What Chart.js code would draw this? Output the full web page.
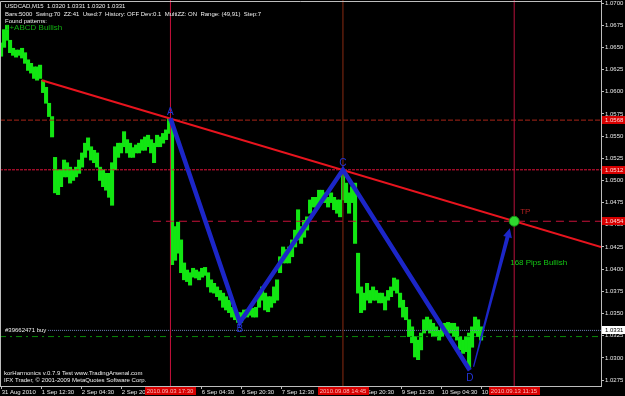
<!DOCTYPE html>
<html><head><meta charset="utf-8">
<script src="https://cdn.jsdelivr.net/npm/chart.js@4"></script>
<style>html,body{margin:0;padding:0;background:#000;overflow:hidden}</style>
</head><body>
<canvas id="c" width="625" height="396"></canvas>
<script>
// ---------------- data ----------------
const headerLines = [
  'USDCAD,M15  1.0320 1.0331 1.0320 1.0331',
  'Bars:5000  Swing:70  ZZ:41  Used:7  History: OFF Dev:0.1  MultiZZ: ON  Range: (49,91)  Step:7',
  'Found patterns:'
];
const patternFound = '1+ABCD Bullish';
const footerLines = [
  'korHarmonics v.0.7.9 Test www.TradingArsenal.com',
  'IFX Trader, \u00A9 2001-2009 MetaQuotes Software Corp.'
];

// price axis
const Y_MIN = 1.02683, Y_MAX = 1.07034;
const priceTicks = [1.0700,1.0675,1.0650,1.0625,1.0600,1.0575,1.0550,1.0525,1.0500,1.0475,1.0450,1.0425,1.0400,1.0375,1.0350,1.0325,1.0300,1.0275];

// time axis: M15 bar numbers counted from 31 Aug 20:30
const X_MIN = -2.7, X_MAX = 958.9;
const timeTickBars = [0,64,128,192,256,320,384,448,512,576,640,704,768];
const timeTickLabels = ['31 Aug 2010','1 Sep 12:30','2 Sep 04:30','2 Sep 20:30','3 Sep 12:30','6 Sep 04:30','6 Sep 20:30','7 Sep 12:30','8 Sep 04:30','8 Sep 20:30','9 Sep 12:30','10 Sep 04:30','10 Sep 20:30'];

// price trace, one low/high range every 72 minutes (4.8 M15 bars)
const SAMPLE_START_BAR = -1, SAMPLE_STEP_BARS = 4.8;
const priceLow = [
1.0640,1.0650,1.0658,1.0644,1.0641,1.0639,1.0641,1.0638,1.0632,1.0624,
1.0621,1.0615,1.0613,1.0615,1.0599,1.0587,1.0572,1.0549,1.0486,1.0484,
1.0493,1.0504,1.0504,1.0497,1.0500,1.0504,1.0508,1.0515,1.0526,1.0534,
1.0523,1.0520,1.0515,1.0500,1.0493,1.0489,1.0481,1.0472,1.0512,1.0526,
1.0531,1.0538,1.0531,1.0526,1.0526,1.0531,1.0531,1.0534,1.0534,1.0538,
1.0531,1.0520,1.0538,1.0538,1.0542,1.0546,1.0553,1.0405,1.0410,1.0418,
1.0396,1.0388,1.0386,1.0382,1.0391,1.0390,1.0388,1.0391,1.0393,1.0380,
1.0374,1.0373,1.0369,1.0365,1.0357,1.0354,1.0351,1.0346,1.0343,1.0340,
1.0340,1.0345,1.0346,1.0348,1.0346,1.0346,1.0357,1.0365,1.0354,1.0352,
1.0357,1.0362,1.0365,1.0396,1.0407,1.0407,1.0407,1.0414,1.0425,1.0433,
1.0429,1.0436,1.0444,1.0463,1.0470,1.0470,1.0475,1.0478,1.0475,1.0470,
1.0475,1.0467,1.0463,1.0459,1.0478,1.0475,1.0463,1.0475,1.0429,1.0373,
1.0351,1.0354,1.0365,1.0362,1.0365,1.0365,1.0362,1.0362,1.0354,1.0365,
1.0369,1.0376,1.0373,1.0357,1.0346,1.0343,1.0324,1.0317,1.0301,1.0298,
1.0309,1.0328,1.0331,1.0328,1.0324,1.0324,1.0320,1.0324,1.0328,1.0328,
1.0328,1.0324,1.0320,1.0309,1.0305,1.0307,1.0288,1.0312,1.0328,1.0324,
1.0320];
const priceHigh = [
1.0655,1.0670,1.0675,1.0658,1.0649,1.0647,1.0647,1.0649,1.0644,1.0636,
1.0632,1.0628,1.0628,1.0630,1.0613,1.0605,1.0587,1.0572,1.0526,1.0512,
1.0512,1.0523,1.0520,1.0515,1.0512,1.0515,1.0523,1.0531,1.0542,1.0548,
1.0538,1.0534,1.0531,1.0515,1.0512,1.0508,1.0508,1.0520,1.0538,1.0542,
1.0542,1.0555,1.0546,1.0542,1.0537,1.0540,1.0542,1.0546,1.0549,1.0551,
1.0546,1.0542,1.0551,1.0549,1.0553,1.0557,1.0570,1.0566,1.0448,1.0453,
1.0433,1.0407,1.0399,1.0396,1.0401,1.0399,1.0397,1.0401,1.0402,1.0396,
1.0388,1.0384,1.0380,1.0376,1.0373,1.0369,1.0365,1.0357,1.0352,1.0351,
1.0351,1.0354,1.0354,1.0356,1.0356,1.0357,1.0373,1.0380,1.0373,1.0369,
1.0369,1.0380,1.0388,1.0414,1.0425,1.0422,1.0425,1.0433,1.0444,1.0467,
1.0448,1.0455,1.0459,1.0478,1.0481,1.0481,1.0489,1.0489,1.0486,1.0481,
1.0486,1.0481,1.0478,1.0478,1.0508,1.0497,1.0486,1.0493,1.0497,1.0418,
1.0380,1.0373,1.0384,1.0376,1.0380,1.0376,1.0373,1.0373,1.0369,1.0376,
1.0380,1.0390,1.0388,1.0373,1.0365,1.0357,1.0343,1.0335,1.0324,1.0320,
1.0328,1.0343,1.0346,1.0343,1.0339,1.0335,1.0331,1.0335,1.0339,1.0340,
1.0339,1.0339,1.0335,1.0324,1.0320,1.0324,1.0328,1.0335,1.0346,1.0343,
1.0335];

// ABCD pattern
const patternNames = ['A','B','C','D'];
const patternBars = [270, 381, 546, 749];
const patternPrices = [1.0570, 1.0340, 1.0512, 1.0286];
const tpBar = 820, tpPrice = 1.0454, pipsText = '168 Pips Bullish';
const arrowBars = [755, 813];
const arrowPrices = [1.0290, 1.0446];

// trend line through A and C
const trendBars = [64, 959];
const trendPrices = [1.0613, 1.0425];

// horizontal levels
const aLevel = 1.0568, cLevel = 1.0512, tpLevel = 1.0454, tpLevelStartBar = 242;
const orderLevel = 1.0331, orderLabel = '#39662471 buy', orderLineStartBar = 74;
const stopLevel = 1.0324;

// vertical time markers and their labels
const markerBars = [270, 546, 820];
const markerLabels = ['2010.09.03 17:30', '2010.09.08 14:45', '2010.09.13 11:15'];
const markerColors = ['#c8103c', '#8a2a10', '#b8103c'];

// ---------------- chart ----------------
Chart.defaults.font.family = '"Liberation Sans", Arial, sans-serif';
const FONT = '"Liberation Sans", Arial, sans-serif';

function seg(x0, y0, x1, y1) { return [{x:x0, y:y0}, {x:x1, y:y1}]; }
function lineDs(data, color, width, dash, order) {
  return {type:'line', data, borderColor:color, borderWidth:width, borderDash:dash||[],
    pointRadius:0, fill:false, tension:0, order, borderCapStyle:'butt'};
}

const datasets = [
  {type:'bar', data: priceLow.map((lo,i)=>({x: SAMPLE_START_BAR + i*SAMPLE_STEP_BARS, y:[lo, priceHigh[i]]})),
   backgroundColor:'#12e612', borderWidth:0, barThickness:3.4, order:20},
  lineDs(seg(X_MIN, aLevel, X_MAX, aLevel), '#a82418', 1, [5,2], 9),
  lineDs(seg(X_MIN, cLevel, X_MAX, cLevel), '#e0123a', 1, [3,1], 9),
  lineDs(seg(tpLevelStartBar, tpLevel, X_MAX, tpLevel), '#c8123a', 1, [8,5], 9),
  lineDs(seg(orderLineStartBar, orderLevel, X_MAX, orderLevel), '#7080b8', 1, [1,1], 9),
  lineDs(seg(X_MIN, stopLevel, X_MAX, stopLevel), '#0a8a0a', 1, [6,4,2,4], 9),
  lineDs(seg(markerBars[0], Y_MIN, markerBars[0], Y_MAX), markerColors[0], 1, [], 8),
  lineDs(seg(markerBars[1], Y_MIN, markerBars[1], Y_MAX), markerColors[1], 1, [], 8),
  lineDs(seg(markerBars[2], Y_MIN, markerBars[2], Y_MAX), markerColors[2], 1, [], 8),
  lineDs(seg(trendBars[0], trendPrices[0], trendBars[1], trendPrices[1]), '#e8141e', 2, [], 6),
  lineDs(patternBars.map((b,i)=>({x:b, y:patternPrices[i]})), '#1c26c8', 4.5, [], 4),
  {type:'scatter', data:[{x:tpBar, y:tpPrice}], pointRadius:5, pointBackgroundColor:'#2ed82e',
   pointBorderColor:'#149014', pointBorderWidth:1, order:3}
];

const overlay = {
  id:'overlay',
  beforeDraw(chart) {
    const c = chart.ctx;
    c.save(); c.fillStyle = '#000'; c.fillRect(0,0,chart.width,chart.height); c.restore();
  },
  afterDatasetsDraw(chart) {
    const c = chart.ctx, xs = chart.scales.x, ys = chart.scales.y, a = chart.chartArea;
    c.save();
    // frame
    c.strokeStyle = '#bdbdbd'; c.lineWidth = 1;
    c.beginPath(); c.moveTo(a.left+0.5, a.bottom); c.lineTo(a.left+0.5, a.top+1.5); c.lineTo(a.right, a.top+1.5); c.stroke();
    // arrow D -> TP (tapered)
    const x0 = xs.getPixelForValue(arrowBars[0]), y0 = ys.getPixelForValue(arrowPrices[0]);
    const x1 = xs.getPixelForValue(arrowBars[1]), y1 = ys.getPixelForValue(arrowPrices[1]);
    const dx = x1-x0, dy = y1-y0, L = Math.hypot(dx,dy), ux = dx/L, uy = dy/L, nx = -uy, ny = ux;
    const hb = 9, bx = x1-ux*hb, by = y1-uy*hb;
    c.fillStyle = '#1c26c8';
    c.beginPath();
    c.moveTo(x0+nx*0.6, y0+ny*0.6); c.lineTo(bx+nx*2, by+ny*2); c.lineTo(bx+nx*4.5, by+ny*4.5);
    c.lineTo(x1, y1);
    c.lineTo(bx-nx*4.5, by-ny*4.5); c.lineTo(bx-nx*2, by-ny*2); c.lineTo(x0-nx*0.6, y0-ny*0.6);
    c.closePath(); c.fill();
    // pattern letters
    c.font = '10px ' + FONT; c.fillStyle = '#2434d8'; c.textAlign = 'center'; c.textBaseline = 'middle';
    const off = [-6, 7, -7, 8];
    patternNames.forEach((n,i)=>{
      c.fillText(n, xs.getPixelForValue(patternBars[i]), ys.getPixelForValue(patternPrices[i]) + off[i]);
    });
    // TP + pips text
    const tx = xs.getPixelForValue(tpBar), ty = ys.getPixelForValue(tpPrice);
    c.font = '8px ' + FONT; c.textAlign = 'left';
    c.fillStyle = '#b02020'; c.fillText('TP', tx+6, ty-9);
    c.fillStyle = '#14c814'; c.fillText(pipsText, tx-4, ty+42);
    // header / footer texts
    c.fillStyle = '#f0f0f0'; c.font = '6px ' + FONT;
    c.fillText(headerLines[0], 5, 6);
    c.fillText(headerLines[1], 5, 14);
    c.fillText(headerLines[2], 5, 21);
    c.fillStyle = '#10b010'; c.font = '8px ' + FONT;
    c.fillText(patternFound, 5, 28);
    c.fillStyle = '#f0f0f0'; c.font = '6px ' + FONT;
    c.fillText(footerLines[0], 4, 373);
    c.fillText(footerLines[1], 4, 380);
    // order label
    c.fillText(orderLabel, 5, ys.getPixelForValue(orderLevel));
    c.restore();
  },
  afterDraw(chart) {
    const c = chart.ctx, xs = chart.scales.x, ys = chart.scales.y, a = chart.chartArea;
    c.save();
    c.font = '6px ' + FONT; c.textBaseline = 'middle'; c.textAlign = 'left';
    // price tags on the right axis
    [[aLevel,'#d80000','#ffd8d8'],[cLevel,'#d80000','#ffd8d8'],[tpLevel,'#d80000','#ffd8d8'],[orderLevel,'#ffffff','#000000']]
      .forEach(([v,bg,fg])=>{
        const y = Math.round(ys.getPixelForValue(v));
        c.fillStyle = bg; c.fillRect(a.right+1, y-4, chart.width-a.right-1, 8);
        c.fillStyle = fg; c.fillText(v.toFixed(4), a.right+4, y);
      });
    // time tags on the bottom axis
    c.textAlign = 'center';
    markerBars.forEach((b,i)=>{
      const x = Math.round(xs.getPixelForValue(b));
      c.fillStyle = '#d80000'; c.fillRect(x-25, a.bottom+1, 51, 8);
      c.fillStyle = '#ffb8b8'; c.fillText(markerLabels[i], x, a.bottom+5);
    });
    c.restore();
  }
};

new Chart(document.getElementById('c'), {
  type:'bar',
  data:{datasets},
  plugins:[overlay],
  options:{
    responsive:false, animation:false, devicePixelRatio:1,
    layout:{padding:0, autoPadding:false},
    plugins:{legend:{display:false}, tooltip:{enabled:false}},
    scales:{
      x:{type:'linear', position:'bottom', min:X_MIN, max:X_MAX, offset:false,
        grid:{display:true, drawOnChartArea:false, drawTicks:true, tickLength:3, color:'#bdbdbd', offset:false},
        border:{display:true, color:'#bdbdbd'},
        afterBuildTicks:s=>{ s.ticks = timeTickBars.map(v=>({value:v})); },
        afterFit:s=>{ s.height = 10; s.paddingLeft = 0; s.paddingRight = 0; s.paddingTop = 0; s.paddingBottom = 0; },
        ticks:{autoSkip:false, maxRotation:0, minRotation:0, align:'start', padding:0, color:'#e8e8e8',
          font:{size:6}, callback:(v,i)=>timeTickLabels[i]}
      },
      y:{type:'linear', position:'right', min:Y_MIN, max:Y_MAX,
        grid:{display:true, drawOnChartArea:false, drawTicks:true, tickLength:3, color:'#bdbdbd'},
        border:{display:true, color:'#bdbdbd'},
        afterBuildTicks:s=>{ s.ticks = priceTicks.map(v=>({value:v})); },
        afterFit:s=>{ s.width = 24; s.paddingLeft = 0; s.paddingRight = 0; s.paddingTop = 0; s.paddingBottom = 0; },
        ticks:{padding:1, color:'#e8e8e8', font:{size:6}, callback:v=>Number(v).toFixed(4)}
      }
    }
  }
});
</script>
</body></html>
